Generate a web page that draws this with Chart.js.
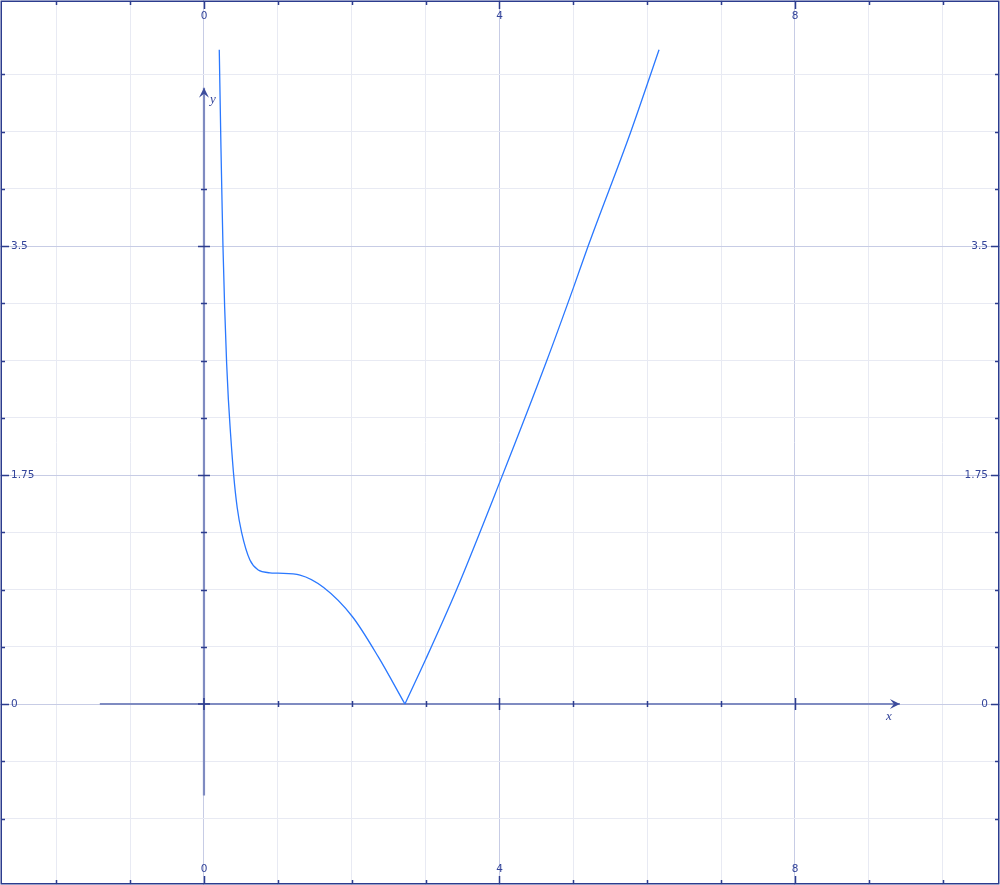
<!DOCTYPE html>
<html>
<head>
<meta charset="utf-8">
<script src="https://cdn.jsdelivr.net/npm/chart.js@4.4.1/dist/chart.umd.min.js"></script>
<style>
  html,body{margin:0;padding:0;background:#fff;}
  #wrap{width:1000px;height:885px;position:relative;}
</style>
</head>
<body>
<div id="wrap"><canvas id="plot"></canvas></div>
<script>
// curve, split at the cusp on the x axis
const leftX  = [0.207, 0.230, 0.244, 0.257, 0.280, 0.307, 0.330, 0.352, 0.402, 0.450, 0.510, 0.622, 0.735, 0.893, 1.000, 1.300, 1.620, 2.010, 2.360, 2.720];
const leftY  = [5.000, 4.250, 3.850, 3.500, 3.030, 2.600, 2.330, 2.130, 1.750, 1.500, 1.310, 1.100, 1.024, 1.003, 1.000, 0.985, 0.890, 0.667, 0.360, 0.000];
const rightX = [2.720, 3.000, 3.420, 4.000, 4.637, 5.000, 5.200, 5.774, 6.160];
const rightY = [0.000, 0.340, 0.875, 1.690, 2.619, 3.180, 3.500, 4.368, 5.000];

// axis extents (data units)
const xAxisSpan = [-1.41, 9.42];
const yAxisSpan = [-0.70, 4.71];

// grid / tick values
const xGrid = [-2, -1, 0, 1, 2, 3, 4, 5, 6, 7, 8, 9, 10];
const yGrid = [-0.875, -0.4375, 0, 0.4375, 0.875, 1.3125, 1.75, 2.1875, 2.625, 3.0625, 3.5, 3.9375, 4.375, 4.8125];
const xLabels = [0, 4, 8];
const yLabels = [0, 1.75, 3.5];
const xAxisTicks = [1, 2, 3, 4, 5, 6, 7, 8];
const yAxisTicks = [0.4375, 0.875, 1.3125, 1.75, 2.1875, 2.625, 3.0625, 3.5, 3.9375];

const C = {
  frame:"#2c3c8e", label:"#33449a", major:"#c7cce5", minor:"#e8eaf3",
  axis:"#7f8bc1", curve:"#2a78ff", arrow:"#3d4c9c",
};

const pts = (xs, ys) => xs.map((v, i) => ({x:v, y:ys[i]}));
const isMajorX = v => Math.abs(v % 4) < 1e-9;
const isMajorY = v => Math.abs(v / 1.75 - Math.round(v / 1.75)) < 1e-9;

const overlay = {
  id:"overlay",
  afterDatasetsDraw(chart) {
    const {ctx, scales:{x, y}} = chart;
    const W = chart.width, H = chart.height;
    const x0 = x.getPixelForValue(0), y0 = y.getPixelForValue(0);
    ctx.save();

    // ticks on the drawn axes
    ctx.strokeStyle = C.frame; ctx.lineWidth = 1.5;
    ctx.beginPath();
    xAxisTicks.forEach(v => {
      const px = Math.round(x.getPixelForValue(v)) + 0.5, h = isMajorX(v) ? 6 : 3;
      ctx.moveTo(px, y0 - h); ctx.lineTo(px, y0 + h);
    });
    yAxisTicks.forEach(v => {
      const py = Math.round(y.getPixelForValue(v)) + 0.5, h = isMajorY(v) ? 6 : 3;
      ctx.moveTo(x0 - h, py); ctx.lineTo(x0 + h, py);
    });
    ctx.moveTo(x0 - 6, y0); ctx.lineTo(x0 + 6, y0);
    ctx.moveTo(x0, y0 - 6); ctx.lineTo(x0, y0 + 6);
    ctx.stroke();

    // arrow heads
    const ax = x.getPixelForValue(xAxisSpan[1]), ay = y.getPixelForValue(yAxisSpan[1]);
    ctx.fillStyle = C.arrow;
    ctx.beginPath();
    ctx.moveTo(ax, y0); ctx.lineTo(ax - 10, y0 - 5); ctx.lineTo(ax - 6, y0); ctx.lineTo(ax - 10, y0 + 5);
    ctx.closePath(); ctx.fill();
    ctx.beginPath();
    ctx.moveTo(x0, ay); ctx.lineTo(x0 - 5, ay + 10); ctx.lineTo(x0, ay + 6); ctx.lineTo(x0 + 5, ay + 10);
    ctx.closePath(); ctx.fill();

    // axis names
    ctx.fillStyle = C.label;
    ctx.font = "italic 13px 'Liberation Serif'";
    ctx.textAlign = "center"; ctx.textBaseline = "middle";
    ctx.fillText("x", ax - 11, y0 + 13);
    ctx.fillText("y", x0 + 9, ay + 12);

    // frame with inward ticks
    ctx.strokeStyle = C.frame; ctx.lineWidth = 1.5;
    ctx.strokeRect(1.25, 1.25, W - 2.5, H - 2.5);
    ctx.beginPath();
    xGrid.forEach(v => {
      const px = Math.round(x.getPixelForValue(v)) + 0.5, h = isMajorX(v) ? 8 : 4;
      ctx.moveTo(px, 1); ctx.lineTo(px, 1 + h);
      ctx.moveTo(px, H - 1); ctx.lineTo(px, H - 1 - h);
    });
    yGrid.forEach(v => {
      const py = Math.round(y.getPixelForValue(v)) + 0.5, h = isMajorY(v) ? 8 : 4;
      ctx.moveTo(1, py); ctx.lineTo(1 + h, py);
      ctx.moveTo(W - 1, py); ctx.lineTo(W - 1 - h, py);
    });
    ctx.stroke();

    // tick labels inside the frame
    ctx.font = "10.5px 'DejaVu Sans'";
    ctx.fillStyle = C.label;
    ctx.textAlign = "center"; ctx.textBaseline = "middle";
    xLabels.forEach(v => {
      const px = x.getPixelForValue(v);
      ctx.fillText(String(v), px, 16);
      ctx.fillText(String(v), px, H - 16);
    });
    yLabels.forEach(v => {
      const py = y.getPixelForValue(v);
      ctx.textAlign = "left";  ctx.fillText(String(v), 11, py);
      ctx.textAlign = "right"; ctx.fillText(String(v), W - 12, py);
    });
    ctx.restore();
  }
};

const gridColor = test => c => (c.tick && test(c.tick.value)) ? C.major : C.minor;

new Chart(document.getElementById("plot"), {
  type:"scatter",
  data:{ datasets:[
    { data:pts(leftX, leftY), showLine:true, borderColor:C.curve, borderWidth:1.3, pointRadius:0, cubicInterpolationMode:"monotone" },
    { data:pts(rightX, rightY), showLine:true, borderColor:C.curve, borderWidth:1.3, pointRadius:0, cubicInterpolationMode:"monotone" },
    { data:pts(xAxisSpan, [0, 0]), showLine:true, borderColor:C.axis, borderWidth:2.2, pointRadius:0 },
    { data:pts([0, 0], yAxisSpan), showLine:true, borderColor:C.axis, borderWidth:2.2, pointRadius:0 },
  ]},
  options:{
    responsive:true, maintainAspectRatio:false, animation:false,
    layout:{ padding:0 },
    plugins:{ legend:{display:false}, tooltip:{enabled:false} },
    scales:{
      x:{ type:"linear", min:-2.761, max:10.775,
          afterBuildTicks:s => { s.ticks = xGrid.map(v => ({value:v})); },
          ticks:{display:false}, border:{display:false},
          grid:{ color:gridColor(isMajorX), lineWidth:1, drawTicks:false } },
      y:{ type:"linear", min:-1.383, max:5.380,
          afterBuildTicks:s => { s.ticks = yGrid.map(v => ({value:v})); },
          ticks:{display:false}, border:{display:false},
          grid:{ color:gridColor(isMajorY), lineWidth:1, drawTicks:false } },
    },
  },
  plugins:[overlay],
});
</script>
</body>
</html>
